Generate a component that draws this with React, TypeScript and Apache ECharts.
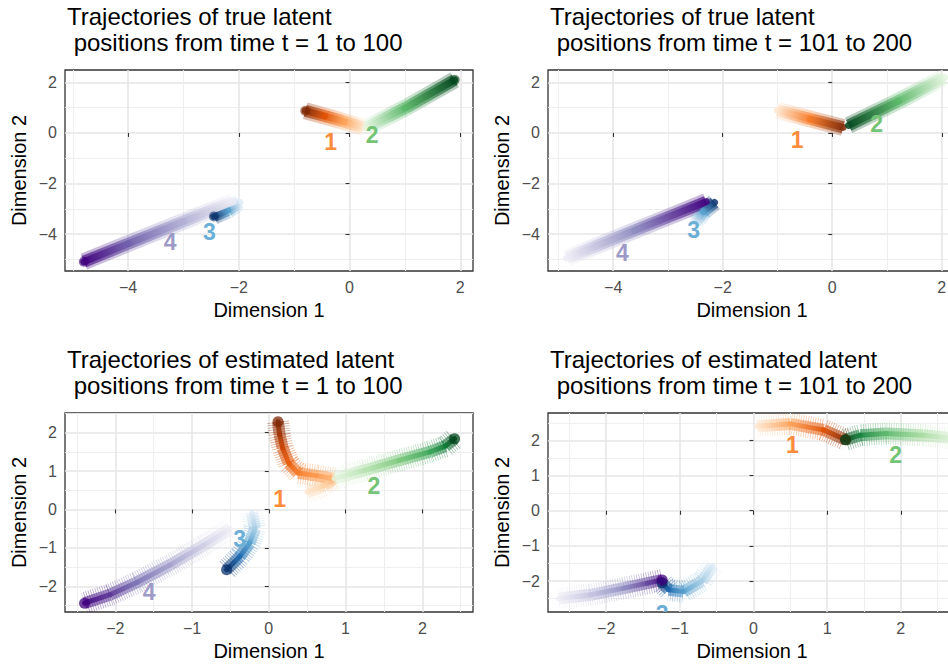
import React, { useEffect, useRef } from "react";
import * as echarts from "echarts";

// ColorBrewer sequential ramps, light -> dark
const ORANGES = ["#fff5eb", "#fee6ce", "#fdd0a2", "#fdae6b", "#fd8d3c", "#f16913", "#d94801", "#a63603", "#7f2704"];
const GREENS = ["#f7fcf5", "#e5f5e0", "#c7e9c0", "#a1d99b", "#74c476", "#41ab5d", "#238b45", "#006d2c", "#00441b"];
const BLUES = ["#f7fbff", "#deebf7", "#c6dbef", "#9ecae1", "#6baed6", "#4292c6", "#2171b5", "#08519c", "#08306b"];
const PURPLES = ["#fcfbfd", "#efedf5", "#dadaeb", "#bcbddc", "#9e9ac8", "#807dba", "#6a51a3", "#54278f", "#3f007d"];
const NODE_RAMPS = [ORANGES, GREENS, BLUES, PURPLES];
const NODE_LABEL_COLORS = ["#fd8d3c", "#74c476", "#6baed6", "#9e9ac8"];
const NODE_NAMES = ["1", "2", "3", "4"];

const TITLES = [
  "Trajectories of true latent\n positions from time t = 1 to 100",
  "Trajectories of true latent\n positions from time t = 101 to 200",
  "Trajectories of estimated latent\n positions from time t = 1 to 100",
  "Trajectories of estimated latent\n positions from time t = 101 to 200",
];
const X_NAME = "Dimension 1";
const Y_NAME = "Dimension 2";

// Axis extents per panel
const X_RANGES = [[-5.14, 2.23], [-5.19, 2.26], [-2.655, 2.66], [-2.79, 2.75]];
const Y_RANGES = [[-5.46, 2.49], [-5.46, 2.49], [-2.67, 2.51], [-2.88, 2.78]];
const X_MAJOR = [[-4, -2, 0, 2], [-4, -2, 0, 2], [-2, -1, 0, 1, 2], [-2, -1, 0, 1, 2]];
const X_MINOR = [[-5, -3, -1, 1], [-5, -3, -1, 1], [-2.5, -1.5, -0.5, 0.5, 1.5, 2.5], [-2.5, -1.5, -0.5, 0.5, 1.5, 2.5]];
const Y_MAJOR = [[-4, -2, 0, 2], [-4, -2, 0, 2], [-2, -1, 0, 1, 2], [-2, -1, 0, 1, 2]];
const Y_MINOR = [[-5, -3, -1, 1], [-5, -3, -1, 1], [-2.5, -1.5, -0.5, 0.5, 1.5, 2.5], [-2.5, -1.5, -0.5, 0.5, 1.5, 2.5]];

// True latent positions, t = 1 .. 100 (points in time order)
const TRUE_A_NODE1 = [[0.25, 0.22], [-0.1, 0.45], [-0.45, 0.67], [-0.8, 0.88]];
const TRUE_A_NODE2 = [[0.3, 0.2], [1.0, 0.98], [1.9, 2.1]];
const TRUE_A_NODE3 = [[-1.98, -2.75], [-2.2, -3.05], [-2.45, -3.3]];
const TRUE_A_NODE4 = [[-2.1, -2.72], [-3.0, -3.5], [-4.0, -4.38], [-4.8, -5.09]];
// True latent positions, t = 101 .. 200
const TRUE_B_NODE1 = [[-1.0, 0.9], [-0.4, 0.55], [0.2, 0.22]];
const TRUE_B_NODE2 = [[2.05, 2.2], [1.2, 1.25], [0.3, 0.3]];
const TRUE_B_NODE3 = [[-2.5, -3.55], [-2.35, -3.1], [-2.15, -2.75]];
const TRUE_B_NODE4 = [[-4.85, -4.95], [-3.6, -3.85], [-2.3, -2.72]];
// Estimated latent positions, t = 1 .. 100
const EST_A_NODE1 = [[0.5, 0.45], [0.72, 0.62], [0.85, 0.8], [0.62, 0.88], [0.38, 0.95], [0.26, 1.2], [0.18, 1.6], [0.14, 1.95], [0.12, 2.28]];
const EST_A_NODE2 = [[0.85, 0.8], [1.25, 1.02], [1.7, 1.28], [2.1, 1.5], [2.3, 1.65], [2.42, 1.84]];
const EST_A_NODE3 = [[-0.22, -0.08], [-0.18, -0.5], [-0.25, -0.88], [-0.38, -1.23], [-0.55, -1.57]];
const EST_A_NODE4 = [[-0.5, -0.5], [-0.86, -0.95], [-1.29, -1.45], [-1.72, -1.9], [-2.07, -2.22], [-2.4, -2.44]];
// Estimated latent positions, t = 101 .. 200
const EST_B_NODE1 = [[0.05, 2.4], [0.5, 2.47], [0.95, 2.3], [1.25, 2.02]];
const EST_B_NODE2 = [[2.75, 2.05], [2.3, 2.15], [1.8, 2.2], [1.45, 2.15], [1.25, 2.02]];
const EST_B_NODE3 = [[-0.55, -1.55], [-0.7, -2.0], [-0.95, -2.3], [-1.15, -2.25], [-1.24, -2.05]];
const EST_B_NODE4 = [[-2.65, -2.5], [-2.21, -2.39], [-1.76, -2.2], [-1.44, -2.06], [-1.24, -1.97]];

// Node label positions [x, y, node index]
const LABELS_TRUE_A = [[-0.34, -0.34, 0], [0.41, -0.08, 1], [-2.53, -3.9, 2], [-3.24, -4.33, 3]];
const LABELS_TRUE_B = [[-0.64, -0.28, 0], [0.81, 0.36, 1], [-2.53, -3.83, 2], [-3.83, -4.73, 3]];
const LABELS_EST_A = [[0.14, 0.27, 0], [1.37, 0.6, 1], [-0.38, -0.77, 2], [-1.56, -2.15, 3]];
const LABELS_EST_B = [[0.53, 1.87, 0], [1.93, 1.58, 1], [-1.24, -2.93, 2]];

const PANEL_PATHS = [
  [TRUE_A_NODE1, TRUE_A_NODE2, TRUE_A_NODE3, TRUE_A_NODE4],
  [TRUE_B_NODE1, TRUE_B_NODE2, TRUE_B_NODE3, TRUE_B_NODE4],
  [EST_A_NODE1, EST_A_NODE2, EST_A_NODE3, EST_A_NODE4],
  [EST_B_NODE1, EST_B_NODE2, EST_B_NODE3, EST_B_NODE4],
];
const PANEL_LABELS = [LABELS_TRUE_A, LABELS_TRUE_B, LABELS_EST_A, LABELS_EST_B];

// Layout of the four panels (pixels)
const GRID_RECTS = [
  { left: 65, top: 70, width: 408, height: 201 },
  { left: 548, top: 70, width: 408, height: 201 },
  { left: 65, top: 413, width: 408, height: 199 },
  { left: 548, top: 413, width: 408, height: 199 },
];

const FONT = "'Liberation Sans', Arial, Helvetica, sans-serif";

type Layer = { width: number; opacity: number; cap: "butt" | "round"; dash?: number[] };
// fuzzy halo, then solid band
const TRUE_LAYERS: Layer[] = [
  { width: 17, opacity: 0.3, cap: "butt" },
  { width: 12, opacity: 0.65, cap: "butt" },
  { width: 7, opacity: 0.85, cap: "round" },
];
// bristles, soft body, core line
const EST_LAYERS: Layer[] = [
  { width: 22, opacity: 0.4, cap: "butt", dash: [0.8, 1.6] },
  { width: 12, opacity: 0.55, cap: "butt" },
  { width: 5, opacity: 0.85, cap: "round" },
];

function shade(ramp: string[], f: number): string {
  return echarts.color.lerp(Math.max(0, Math.min(1, f)), ramp.slice(1)) as string;
}

const minusFmt = (v: number) => (v < 0 ? "\u2212" + Math.abs(v) : String(v));

function segmentSeries(panel: number, pts: number[][], ramp: string[], layer: Layer) {
  const n = pts.length;
  const data: number[][] = [];
  for (let i = 0; i < n - 1; i++) {
    data.push([pts[i][0], pts[i][1], pts[i + 1][0], pts[i + 1][1], i / (n - 1), (i + 1) / (n - 1)]);
  }
  return {
    type: "custom",
    xAxisIndex: panel * 2,
    yAxisIndex: panel * 2,
    clip: true,
    silent: true,
    data,
    renderItem: (_params: any, api: any) => {
      const a = api.coord([api.value(0), api.value(1)]);
      const b = api.coord([api.value(2), api.value(3)]);
      const stroke = new echarts.graphic.LinearGradient(
        a[0], a[1], b[0], b[1],
        [
          { offset: 0, color: shade(ramp, api.value(4)) },
          { offset: 1, color: shade(ramp, api.value(5)) },
        ],
        true
      );
      return {
        type: "line",
        shape: { x1: a[0], y1: a[1], x2: b[0], y2: b[1] },
        style: {
          stroke,
          lineWidth: layer.width,
          lineCap: layer.cap,
          lineDash: layer.dash || null,
          opacity: layer.opacity,
        },
      };
    },
  };
}

function buildOption() {
  const grid: any[] = [];
  const xAxis: any[] = [];
  const yAxis: any[] = [];
  const title: any[] = [];
  const series: any[] = [];

  GRID_RECTS.forEach((r, p) => {
    grid.push({
      ...r,
      show: true,
      borderColor: "#333333",
      borderWidth: 1.3,
      backgroundColor: "rgba(0,0,0,0)",
    });
    title.push({
      text: TITLES[p],
      left: r.left + 2,
      top: r.top - 67,
      padding: 0,
      textStyle: { fontFamily: FONT, fontSize: 24, lineHeight: 26, fontWeight: "normal", color: "#000" },
    });
    xAxis.push({
      type: "value",
      gridIndex: p,
      min: X_RANGES[p][0],
      max: X_RANGES[p][1],
      position: "bottom",
      axisLine: { show: false },
      axisTick: { show: true, length: 4, lineStyle: { color: "#333333", width: 1.1 }, customValues: X_MAJOR[p] },
      axisLabel: { customValues: X_MAJOR[p], color: "#4d4d4d", fontSize: 16, fontFamily: FONT, margin: 8, formatter: minusFmt },
      splitLine: { show: true, lineStyle: { color: "#e6e6e6", width: 1.6 } },
      name: X_NAME,
      nameLocation: "middle",
      nameGap: 29,
      nameTextStyle: { fontFamily: FONT, fontSize: 20, color: "#000" },
    });
    xAxis.push({
      type: "value",
      gridIndex: p,
      min: X_RANGES[p][0],
      max: X_RANGES[p][1],
      position: "top",
      axisLine: { show: false },
      axisTick: { show: false, customValues: X_MINOR[p] },
      axisLabel: { show: false, customValues: X_MINOR[p] },
      splitLine: { show: true, lineStyle: { color: "#ededed", width: 0.9 } },
    });
    yAxis.push({
      type: "value",
      gridIndex: p,
      min: Y_RANGES[p][0],
      max: Y_RANGES[p][1],
      position: "left",
      axisLine: { show: false },
      axisTick: { show: true, length: 4, lineStyle: { color: "#333333", width: 1.1 }, customValues: Y_MAJOR[p] },
      axisLabel: { customValues: Y_MAJOR[p], color: "#4d4d4d", fontSize: 16, fontFamily: FONT, margin: 8, formatter: minusFmt },
      splitLine: { show: true, lineStyle: { color: "#e6e6e6", width: 1.6 } },
      name: Y_NAME,
      nameLocation: "middle",
      nameGap: 36,
      nameTextStyle: { fontFamily: FONT, fontSize: 20, color: "#000" },
    });
    yAxis.push({
      type: "value",
      gridIndex: p,
      min: Y_RANGES[p][0],
      max: Y_RANGES[p][1],
      position: "right",
      axisLine: { show: false },
      axisTick: { show: false, customValues: Y_MINOR[p] },
      axisLabel: { show: false, customValues: Y_MINOR[p] },
      splitLine: { show: true, lineStyle: { color: "#ededed", width: 0.9 } },
    });

    const layers = p < 2 ? TRUE_LAYERS : EST_LAYERS;
    const paths = PANEL_PATHS[p];
    layers.forEach((layer) => {
      paths.forEach((pts, k) => series.push(segmentSeries(p, pts, NODE_RAMPS[k], layer)));
    });

    // dark marker at the last time point
    if (p !== 1) {
      paths.forEach((pts, k) => {
        series.push({
          type: "scatter",
          xAxisIndex: p * 2,
          yAxisIndex: p * 2,
          silent: true,
          clip: true,
          symbolSize: p < 2 ? 10 : 11,
          data: [pts[pts.length - 1]],
          itemStyle: { color: NODE_RAMPS[k][8], opacity: p < 2 ? 0.6 : 0.75 },
        });
      });
    }

    series.push({
      type: "custom",
      xAxisIndex: p * 2,
      yAxisIndex: p * 2,
      clip: true,
      silent: true,
      data: PANEL_LABELS[p],
      renderItem: (_params: any, api: any) => {
        const c = api.coord([api.value(0), api.value(1)]);
        const k = api.value(2);
        return {
          type: "text",
          x: c[0],
          y: c[1],
          style: {
            text: NODE_NAMES[k],
            fill: NODE_LABEL_COLORS[k],
            fontFamily: FONT,
            fontSize: 23,
            fontWeight: "bold",
            align: "center",
            verticalAlign: "middle",
          },
        };
      },
    });
  });

  return { animation: false, backgroundColor: "#ffffff", title, grid, xAxis, yAxis, series };
}

export default function App() {
  const ref = useRef<HTMLDivElement>(null);
  useEffect(() => {
    if (!ref.current) return;
    const chart = echarts.init(ref.current, null, { renderer: "svg" });
    chart.setOption(buildOption() as any);
    return () => chart.dispose();
  }, []);
  return (
    <div style={{ position: "fixed", left: 0, top: 0, width: 948, height: 668, overflow: "hidden", background: "#fff" }}>
      <div ref={ref} style={{ width: 964, height: 668 }} />
    </div>
  );
}
